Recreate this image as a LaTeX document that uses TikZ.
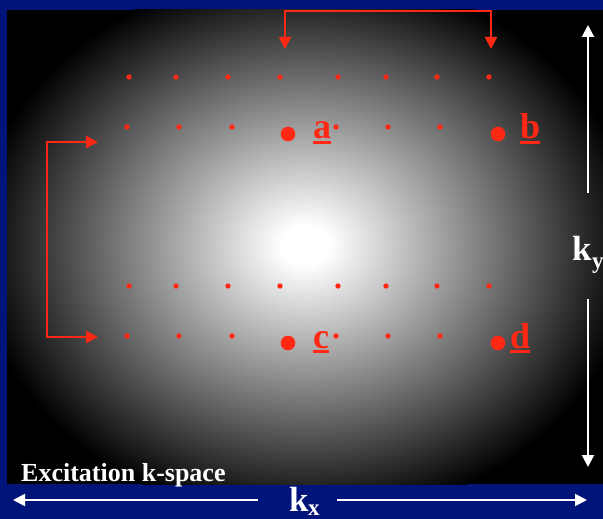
\documentclass[tikz,border=0pt]{standalone}
\usepackage{fontspec}
\setmainfont{Liberation Serif}
\usetikzlibrary{arrows.meta}
\definecolor{navy}{RGB}{0,20,122}
\definecolor{kred}{RGB}{255,40,20}
\pgfdeclareradialshading{glow}{\pgfpoint{0bp}{0bp}}{color(0bp)=(white); color(1.8bp)=(white); color(25bp)=(black); color(50bp)=(black)}
\tikzset{
  sdot/.style={circle, fill=kred, draw=none, inner sep=0pt, minimum size=5.4pt},
  bdot/.style={circle, fill=kred, draw=none, inner sep=0pt, minimum size=14.6pt},
  lab/.style={text=kred, inner sep=0pt, font=\fontsize{36}{40}\selectfont\bfseries},
  uline/.style={draw=kred, line width=2.6pt},
  rarrow/.style={draw=kred, line width=2pt, line join=miter, {Triangle[length=12pt,width=12pt]}-{Triangle[length=12pt,width=12pt]}},
  warrow/.style={draw=white, line width=2pt, -{Triangle[length=12pt,width=12pt]}},
  klab/.style={text=white, inner sep=0pt, font=\fontsize{35}{40}\selectfont\bfseries},
  sublab/.style={text=white, inner sep=0pt, font=\fontsize{23}{26}\selectfont\bfseries},
  title/.style={text=white, inner sep=0pt, font=\fontsize{26}{30}\selectfont\bfseries}
}
\begin{document}
\begin{tikzpicture}[x=1pt,y=-1pt]
\useasboundingbox (0,0) rectangle (603,519);
\fill[navy] (0,0) rectangle (603,519);
\fill[black] (7,10) rectangle (603,484);
\begin{scope}
  \clip (7,10) rectangle (603,484);
  \shade[shading=glow] (305,245) ellipse [x radius=330pt, y radius=275pt];
\end{scope}

% small dots
\foreach \x [count=\i] in {129,176,228,280,338,386,437,489} {
  \node[sdot] (ra\i) at (\x,77) {};
  \node[sdot] (rc\i) at (\x,286) {};
}
\foreach \x [count=\i] in {127,179,232,336,388,440} {
  \node[sdot] (rb\i) at (\x,127) {};
  \node[sdot] (rd\i) at (\x,336) {};
}
% big dots
\node[bdot] (pa) at (288,134) {};
\node[bdot] (pb) at (498,134) {};
\node[bdot] (pc) at (288,343) {};
\node[bdot] (pd) at (498,343) {};

% labels
\node[lab, anchor=base west] (la) at (313,139) {a};
\node[lab, anchor=base west] (lb) at (520,139) {b};
\node[lab, anchor=base west] (lc) at (313,348) {c};
\node[lab, anchor=base west] (ld) at (510,348) {d};
\draw[uline] ([yshift=-3.5pt]la.base west) -- ([yshift=-3.5pt]la.base east);
\draw[uline] ([yshift=-3.5pt]lb.base west) -- ([yshift=-3.5pt]lb.base east);
\draw[uline] ([yshift=-3.5pt]lc.base west) -- ([yshift=-3.5pt]lc.base east);
\draw[uline] ([yshift=-3.5pt]ld.base west) -- ([yshift=-3.5pt]ld.base east);

% red brackets
\coordinate (t1) at (285,49);
\coordinate (t2) at (491,49);
\draw[rarrow] (t1) -- (285,11.5) -- (491,11.5) -- (t2);
\coordinate (l1) at (98,142);
\coordinate (l2) at (98,337);
\draw[rarrow] (l1) -- (47,142) -- (47,337) -- (l2);

% k_y axis
\coordinate (kyA) at (588,193);
\coordinate (kyT) at (588,25);
\coordinate (kyB) at (588,299);
\coordinate (kyE) at (588,467);
\draw[warrow] (kyA) -- (kyT);
\draw[warrow] (kyB) -- (kyE);
\node[klab, anchor=base west] (ky) at (572,260) {k};
\node[sublab, anchor=base west] (kysub) at (592,268) {y};

% k_x axis
\coordinate (kxL) at (258,500);
\coordinate (kxLE) at (13,500);
\coordinate (kxR) at (337,500);
\coordinate (kxRE) at (587,500);
\draw[warrow] (kxL) -- (kxLE);
\draw[warrow] (kxR) -- (kxRE);
\node[klab, anchor=base west] (kx) at (289,511) {k};
\node[sublab, anchor=base west] (kxsub) at (308,515) {x};

% title
\node[title, anchor=base west] (ttl) at (21,481) {Excitation k-space};
\end{tikzpicture}
\end{document}
